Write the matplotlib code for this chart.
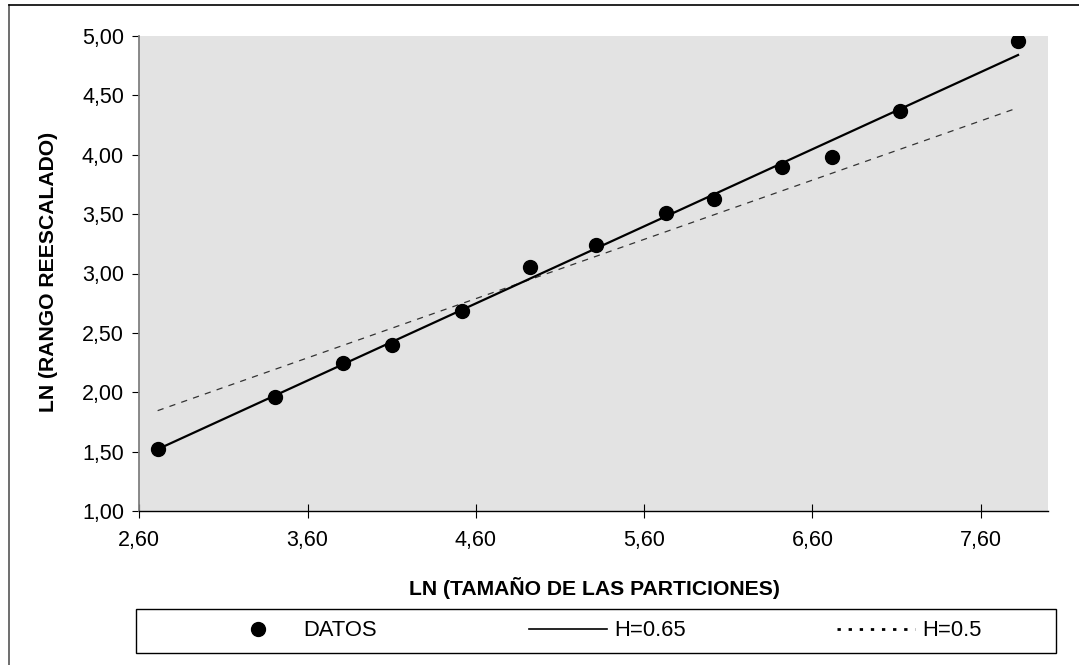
import matplotlib
matplotlib.use('Agg')
import matplotlib.pyplot as plt
from matplotlib.lines import Line2D
from matplotlib.patches import Rectangle
from matplotlib.ticker import FuncFormatter, MultipleLocator

plt.rcParams['font.family'] = ['Liberation Sans', 'DejaVu Sans']

# Data
ln_size = [2.709, 3.407, 3.813, 4.10, 4.517, 4.92, 5.311, 5.73, 6.013, 6.42, 6.717, 7.118, 7.822]
ln_range = [1.52, 1.957, 2.244, 2.395, 2.684, 3.055, 3.237, 3.507, 3.625, 3.897, 3.979, 4.368, 4.955]

# fitted lines (end points)
fit_x = [2.709, 7.822]
fit_h065 = [1.52, 4.84]
fit_h050 = [1.845, 4.396]

x_ticks = [2.6, 3.6, 4.6, 5.6, 6.6, 7.6]

W, H = 1079, 665
fig = plt.figure(figsize=(W / 100, H / 100), dpi=100)
fig.patch.set_facecolor('white')

ax = fig.add_axes([139.3 / W, 1 - 511 / H, (1048 - 139.3) / W, (511 - 36) / H])
ax.set_facecolor('#e3e3e3')

ax.plot(fit_x, fit_h050, color='#333333', lw=0.9, ls=(0, (5, 5)), zorder=2)
ax.plot(fit_x, fit_h065, color='black', lw=1.6, zorder=3)
ax.plot(ln_size, ln_range, 'o', color='black', ms=10, zorder=4)

ax.set_xlim(2.6, 8.0)
ax.set_ylim(1.0, 5.0)
ax.set_xticks(x_ticks)
ax.yaxis.set_major_locator(MultipleLocator(0.5))
comma = FuncFormatter(lambda v, p: f'{v:.2f}'.replace('.', ','))
ax.xaxis.set_major_formatter(comma)
ax.yaxis.set_major_formatter(comma)

for s in ['top', 'right']:
    ax.spines[s].set_visible(False)
ax.spines['left'].set_color('#808080')
ax.spines['left'].set_linewidth(1.3)
ax.spines['bottom'].set_color('black')
ax.spines['bottom'].set_linewidth(1.0)

ax.tick_params(axis='x', direction='inout', length=10, width=0.8, pad=9, labelsize=15.5)
ax.tick_params(axis='y', direction='out', length=5, width=0.8, pad=6, labelsize=15.5)

fig.text(594 / W, 1 - 588 / H, 'LN (TAMAÑO DE LAS PARTICIONES)', ha='center', va='center',
         fontsize=15.2, fontweight='bold')
fig.text(48.5 / W, 1 - 272 / H, 'LN (RANGO REESCALADO)', ha='center', va='center',
         rotation=90, fontsize=15.2, fontweight='bold')

# legend box
fig.add_artist(Rectangle((135.7 / W, 1 - 653.3 / H), (1056 - 135.7) / W, 44.3 / H,
                         transform=fig.transFigure, fill=False, edgecolor='black', lw=1.0))
handles = [
    Line2D([], [], marker='o', ls='none', color='black', ms=10),
    Line2D([], [], color='black', lw=1.2),
    Line2D([], [], color='black', lw=2.0, ls=(0, (1.2, 2.8))),
]
fig.legend(handles, ['DATOS', 'H=0.65', 'H=0.5'], loc='center', ncol=3,
           bbox_to_anchor=(600 / W, 1 - 631 / H), frameon=False, fontsize=15.8,
           handlelength=3.56, handletextpad=0.32, columnspacing=6.9, borderpad=0)

# outer border (left and top visible)
fig.add_artist(Line2D([9 / W, 9 / W], [0, 1 - 5 / H], transform=fig.transFigure, color='#555555', lw=1.2))
fig.add_artist(Line2D([9 / W, 1], [1 - 5 / H, 1 - 5 / H], transform=fig.transFigure, color='black', lw=1.2))

fig.savefig('out.png', dpi=100, facecolor='white')
